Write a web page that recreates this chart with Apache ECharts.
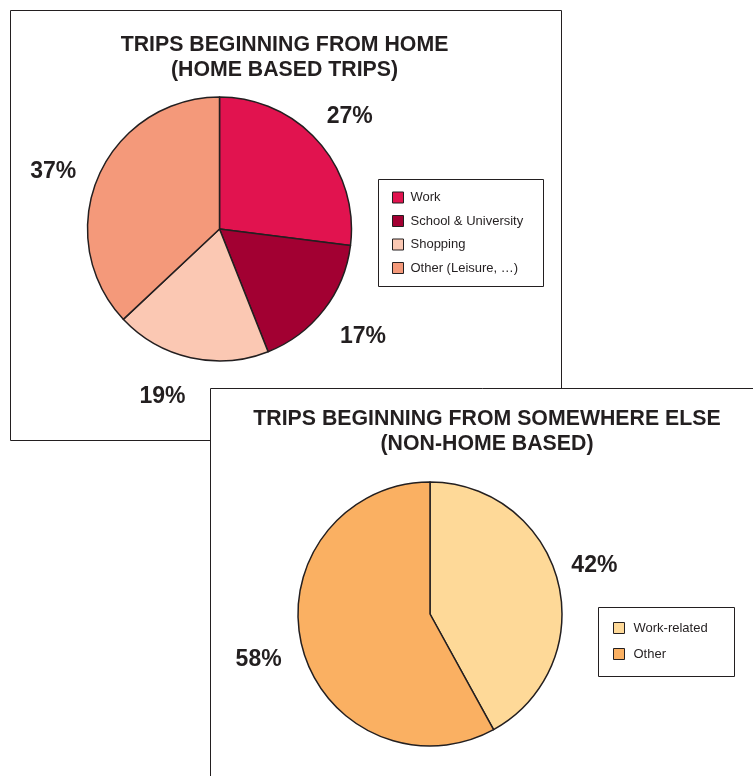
<!DOCTYPE html>
<html>
<head>
<meta charset="utf-8">
<script src="https://cdn.jsdelivr.net/npm/echarts@6/dist/echarts.min.js"></script>
<style>
html,body{margin:0;padding:0;background:#fff;}
#main{width:753px;height:776px;}
</style>
</head>
<body>
<div id="main"></div>
<script>
// ---- data ----
var homeCategories = ['Work', 'School & University', 'Shopping', 'Other (Leisure, …)'];
var homeValues = [27, 17, 19, 37];
var homeColors = ['#E1134F', '#A20032', '#FBC8B3', '#F4997A'];

var nonHomeCategories = ['Work-related', 'Other'];
var nonHomeValues = [42, 58];
var nonHomeColors = ['#FED998', '#FAB062'];

var homeTitle = 'TRIPS BEGINNING FROM HOME\n(HOME BASED TRIPS)';
var nonHomeTitle = 'TRIPS BEGINNING FROM SOMEWHERE ELSE\n(NON-HOME BASED)';

// ---- label nudges (styling only) ----
var homeLabelNudge = [[-4, 6], [2, -2], [-18, -7], [-2, 14]];
var nonHomeLabelNudge = [[-9, -4], [2, 1]];

// ---- build ----
var FONT = '"Liberation Sans", Arial, Helvetica, sans-serif';
var INK = '#231F20';

function toData(cats, vals, cols) {
  return cats.map(function (c, i) {
    return { name: c, value: vals[i], itemStyle: { color: cols[i] } };
  });
}

function pieSeries(cats, vals, cols, center) {
  return {
    type: 'pie',
    center: center,
    radius: [0, 132],
    startAngle: 90,
    clockwise: true,
    silent: true,
    animation: false,
    data: toData(cats, vals, cols),
    itemStyle: { borderColor: INK, borderWidth: 1.5 },
    label: { show: false },
    labelLine: { show: false },
    emphasis: { disabled: true }
  };
}

function labelRing(cats, vals, center, nudge) {
  return {
    type: 'pie',
    center: center,
    radius: [169, 183],
    startAngle: 90,
    clockwise: true,
    silent: true,
    animation: false,
    data: cats.map(function (c, i) {
      return { name: c, value: vals[i], label: { offset: nudge[i] } };
    }),
    itemStyle: { color: 'rgba(0,0,0,0)', borderWidth: 0 },
    label: {
      show: true,
      position: 'inside',
      formatter: '{c}%',
      fontFamily: FONT,
      fontWeight: 'bold',
      fontSize: 23,
      color: INK
    },
    labelLine: { show: false },
    emphasis: { disabled: true }
  };
}

var chart = echarts.init(document.getElementById('main'), null, { renderer: 'canvas' });

chart.setOption({
  backgroundColor: '#fff',
  animation: false,
  graphic: {
    elements: [
      { type: 'rect', z: 0, shape: { x: 10.5, y: 10.5, width: 551, height: 430 },
        style: { fill: '#fff', stroke: INK, lineWidth: 1 } },
      { type: 'rect', z: 1, shape: { x: 210.5, y: 388.5, width: 600, height: 450 },
        style: { fill: '#fff', stroke: INK, lineWidth: 1 } },
      { type: 'rect', z: 2, shape: { x: 378.5, y: 179.5, width: 165, height: 107 },
        style: { fill: '#fff', stroke: INK, lineWidth: 1 } },
      { type: 'rect', z: 2, shape: { x: 598.5, y: 607.5, width: 136, height: 69 },
        style: { fill: '#fff', stroke: INK, lineWidth: 1 } }
    ]
  },
  title: [
    {
      text: homeTitle,
      left: 284.5,
      top: 32,
      textAlign: 'center',
      padding: 0,
      textStyle: { fontFamily: FONT, fontWeight: 'bold', fontSize: 21.3, lineHeight: 25.5, color: INK }
    },
    {
      text: nonHomeTitle,
      left: 487,
      top: 406,
      textAlign: 'center',
      padding: 0,
      textStyle: { fontFamily: FONT, fontWeight: 'bold', fontSize: 21.3, lineHeight: 25.5, color: INK }
    }
  ],
  legend: [
    {
      data: homeCategories,
      orient: 'vertical',
      left: 392,
      top: 191,
      padding: 0,
      itemWidth: 11,
      itemHeight: 11,
      itemGap: 10.5,
      icon: 'rect',
      selectedMode: false,
      itemStyle: { borderColor: INK, borderWidth: 1 },
      textStyle: { fontFamily: FONT, fontSize: 13, lineHeight: 13, color: INK, padding: [0, 0, 0, 2] }
    },
    {
      data: nonHomeCategories,
      orient: 'vertical',
      left: 613,
      top: 621.5,
      padding: 0,
      itemWidth: 11,
      itemHeight: 11,
      itemGap: 13,
      icon: 'rect',
      selectedMode: false,
      itemStyle: { borderColor: INK, borderWidth: 1 },
      textStyle: { fontFamily: FONT, fontSize: 13, lineHeight: 13, color: INK, padding: [0, 0, 0, 4] }
    }
  ],
  series: [
    pieSeries(homeCategories, homeValues, homeColors, [219.5, 229]),
    pieSeries(nonHomeCategories, nonHomeValues, nonHomeColors, [430, 614]),
    labelRing(homeCategories, homeValues, [219.5, 229], homeLabelNudge),
    labelRing(nonHomeCategories, nonHomeValues, [430, 614], nonHomeLabelNudge)
  ]
});
</script>
</body>
</html>
